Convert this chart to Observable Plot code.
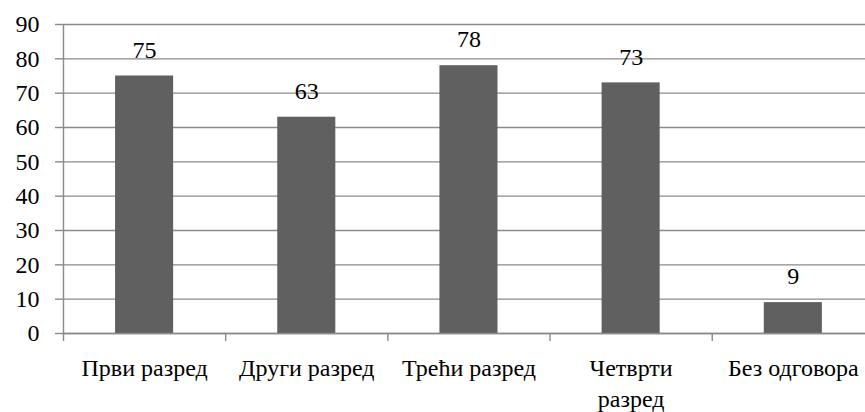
<!DOCTYPE html>
<html><head><meta charset="utf-8">
<script src="https://cdn.jsdelivr.net/npm/d3@7"></script>
<script src="https://cdn.jsdelivr.net/npm/@observablehq/plot@0.6"></script>
<style>html,body{margin:0;padding:0;background:#fff}</style>
</head><body><div id="chart"></div>
<script>
const categories = ["Први разред", "Други разред", "Трећи разред", "Четврти разред", "Без одговора"];
const categoryLabels = ["Први разред", "Други разред", "Трећи разред", "Четврти\nразред", "Без одговора"];
const values = [75, 63, 78, 73, 9];
const yTicks = [0, 10, 20, 30, 40, 50, 60, 70, 80, 90];

const idx = categories.map((_, i) => i);
const xMax = categories.length - 0.555;
const boundaries = idx.map(i => i - 0.5);
const data = categories.map((c, i) => ({i, category: c, value: values[i]}));
const half = 0.179;
const gray = "#8a8a8a";

const chart = Plot.plot({
  width: 865, height: 412,
  marginTop: 24, marginBottom: 79, marginLeft: 63, marginRight: 0,
  x: {type: "linear", domain: [-0.5, xMax]},
  y: {domain: [0, 90]},
  marks: [
    Plot.gridY(yTicks, {stroke: gray, strokeOpacity: 1, strokeWidth: 1.4}),
    Plot.axisY({ticks: yTicks, tickSize: 8, tickPadding: 16, stroke: gray, strokeWidth: 1.4, fill: "black", label: null, fontSize: 24, fontFamily: "Liberation Serif"}),
    Plot.ruleX([-0.5], {stroke: gray, strokeWidth: 1.4}),
    Plot.rectY(data, {x1: d => d.i - half, x2: d => d.i + half, y1: 0, y2: "value", fill: "#606060"}),
    Plot.ruleY([0], {stroke: gray, strokeWidth: 1.4}),
    Plot.axisX({ticks: boundaries, tickSize: 8, tickFormat: () => "", stroke: gray, strokeWidth: 1.4, label: null}),
    Plot.axisX({ticks: idx, tickSize: 0, tickPadding: 21, tickFormat: i => categoryLabels[i], label: null, fill: "black", fontSize: 24, fontFamily: "Times New Roman", lineHeight: 1.28}),
    Plot.text(data, {x: "i", y: "value", text: d => String(d.value), lineAnchor: "middle", dy: -26, fontSize: 24, fontFamily: "serif"})
  ]
});
document.getElementById("chart").appendChild(chart);
</script></body></html>
